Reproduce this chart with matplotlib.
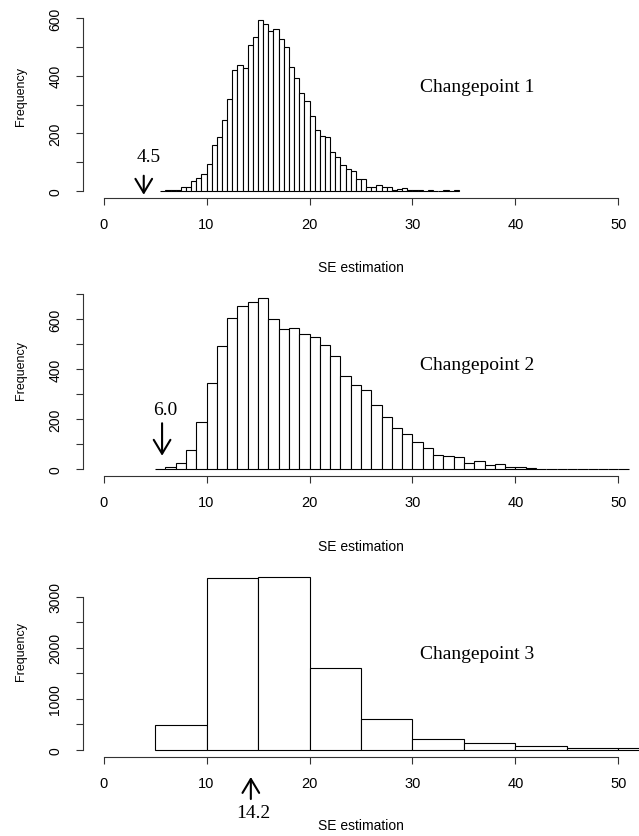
import numpy as np
import matplotlib.pyplot as plt

# histogram bins and counts
cp1_edges = np.arange(5.5, 34.51, 0.5)
cp1_counts = [1, 2, 3, 4, 15, 15, 35, 44, 60, 94,
              159, 187, 245, 320, 418, 438, 428, 508, 535, 593,
              580, 556, 562, 528, 500, 431, 393, 341, 313, 261,
              210, 190, 187, 137, 119, 91, 76, 69, 40, 40,
              15, 15, 21, 14, 14, 5, 7, 9, 3, 2,
              3, 1, 2, 1, 0, 2, 1, 2]
cp2_edges = np.arange(5, 51.01, 1)
cp2_counts = [1, 8, 24, 75, 187, 345, 493, 603, 652, 668,
              683, 602, 560, 564, 539, 528, 495, 452, 372, 337,
              317, 258, 207, 163, 140, 107, 83, 55, 51, 47,
              24, 31, 15, 19, 7, 7, 3, 2, 2, 2,
              1, 2, 1, 0, 1, 1]
cp3_edges = np.arange(5, 55.01, 5)
cp3_counts = [476, 3370, 3390, 1599, 608, 218, 126, 79, 40, 33]

titles = ["Changepoint 1", "Changepoint 2", "Changepoint 3"]
marks = ["4.5", "6.0", "14.2"]
y_ticks = [np.arange(0, 601, 100), np.arange(0, 701, 100), np.arange(0, 3001, 500)]
y_labels = [[0, 200, 400, 600], [0, 200, 400, 600], [0, 1000, 2000, 3000]]

W, H = 639, 837
fig = plt.figure(figsize=(W / 100, H / 100), dpi=100)

# (pixel row of zero, pixels per count) for each panel
zero_px = [192, 470, 750.7]
px_per = [0.2883, 0.25, 0.051]
left_px, right_px = 83, 639

data = [(cp1_edges, cp1_counts), (cp2_edges, cp2_counts), (cp3_edges, cp3_counts)]
sans = "Liberation Sans"
serif = "Liberation Serif"

axes = []
for i, (edges, counts) in enumerate(data):
    M = max(counts)
    top = zero_px[i] - 1.04 * M * px_per[i]
    bot = zero_px[i] + 0.04 * M * px_per[i]
    ax = fig.add_axes([left_px / W, 1 - bot / H, (right_px - left_px) / W, (bot - top) / H])
    ax.bar(edges[:-1], counts, width=np.diff(edges), align="edge",
           color="white", edgecolor="black", linewidth=0.8)
    ax.set_xlim(-2, 52)
    ax.set_ylim(-0.04 * M, 1.04 * M)
    for s in ["top", "right"]:
        ax.spines[s].set_visible(False)
    ax.spines["left"].set_bounds(0, y_ticks[i][-1])
    ax.spines["bottom"].set_bounds(0, 50)
    for s in ["left", "bottom"]:
        ax.spines[s].set_linewidth(0.8)
        ax.spines[s].set_color("#333333")
    ax.set_xticks(range(0, 51, 10))
    ax.set_xticklabels([str(v) for v in range(0, 51, 10)], fontfamily=sans, fontsize=10.5)
    ax.set_yticks(y_ticks[i])
    ax.set_yticklabels([str(v) if v in y_labels[i] else "" for v in y_ticks[i]],
                       fontfamily=sans, fontsize=10, rotation=90, va="center")
    ax.tick_params(axis="x", direction="out", length=5, width=0.8, pad=9, color="#333333")
    ax.tick_params(axis="y", direction="out", length=5, width=0.8, pad=10, color="#333333")
    ax.text(36.3, [361, 416, 1896][i], titles[i], fontfamily=serif, fontsize=14,
            ha="center", va="center")
    axes.append(ax)

# arrows marking the estimates
arrow = dict(arrowstyle="->,head_length=1.0,head_width=0.6", lw=1.5, color="black",
             shrinkA=0, shrinkB=0)
axes[0].annotate("", xy=(3.9, -13), xytext=(3.9, 53), arrowprops=arrow, annotation_clip=False)
axes[0].text(4.4, 118, marks[0], fontfamily=serif, fontsize=14, ha="center", va="center")
axes[1].annotate("", xy=(5.68, 53), xytext=(5.68, 183), arrowprops=arrow, annotation_clip=False)
axes[1].text(6.0, 239, marks[1], fontfamily=serif, fontsize=14, ha="center", va="center")
axes[2].annotate("", xy=(14.3, -535), xytext=(14.3, -967), arrowprops=arrow, annotation_clip=False)
axes[2].text(14.5, -1222, marks[2], fontfamily=serif, fontsize=14, ha="center", va="center",
             clip_on=False)

# axis titles
for yl, xl in zip([97, 371, 652], [268, 547, 826]):
    fig.text(21 / W, 1 - yl / H, "Frequency", rotation=90, ha="center", va="center",
             fontfamily=sans, fontsize=9)
    fig.text(361 / W, 1 - xl / H, "SE estimation", ha="center", va="center",
             fontfamily=sans, fontsize=10)

fig.savefig("out.png", dpi=100)
